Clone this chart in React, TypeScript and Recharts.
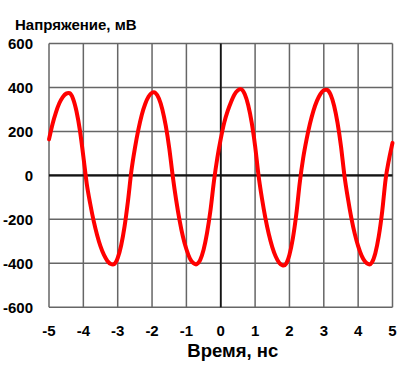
import React from 'react';
import { LineChart, Line, XAxis, YAxis, CartesianGrid, ReferenceLine } from 'recharts';

const times: number[] = [
  -5.0, -4.9, -4.8, -4.7, -4.6, -4.5, -4.43, -4.4, -4.3, -4.2, -4.1, -4.0,
  -3.9, -3.8, -3.7, -3.6, -3.5, -3.4, -3.3, -3.2, -3.14, -3.1, -3.0,
  -2.9, -2.8, -2.7, -2.6, -2.5, -2.4, -2.3, -2.2, -2.1, -2.0, -1.95, -1.9, -1.8,
  -1.7, -1.6, -1.5, -1.4, -1.3, -1.2, -1.1, -1.0, -0.9, -0.8, -0.72, -0.7, -0.6,
  -0.5, -0.4, -0.3, -0.2, -0.1, 0.0, 0.1, 0.2, 0.3, 0.4, 0.5, 0.57, 0.6, 0.7,
  0.8, 0.9, 1.0, 1.1, 1.2, 1.3, 1.4, 1.5, 1.6, 1.7, 1.8, 1.83, 1.9, 2.0,
  2.1, 2.2, 2.3, 2.4, 2.5, 2.6, 2.7, 2.8, 2.9, 3.0, 3.07, 3.1, 3.2,
  3.3, 3.4, 3.5, 3.6, 3.7, 3.8, 3.9, 4.0, 4.1, 4.2, 4.3, 4.33, 4.4,
  4.5, 4.6, 4.7, 4.8, 4.9, 5.0,
];

const voltage: number[] = [
  164, 232, 286, 328, 356, 372, 375, 374, 349, 292, 205, 86,
  -39, -129, -207, -271, -323, -362, -389, -403, -405, -403, -376,
  -319, -232, -115, 22, 123, 207, 275, 325, 359, 376, 378, 375, 350,
  300, 225, 125, 0, -110, -203, -279, -336, -377, -399, -405, -404, -385,
  -338, -263, -160, -29, 79, 166, 239, 292, 334, 368, 387, 393, 392, 369,
  319, 241, 134, 0, -105, -194, -268, -326, -369, -397, -409, -410, -402, -361,
  -286, -176, -33, 79, 165, 237, 295, 339, 370, 387, 390, 389, 367,
  317, 239, 133, 0, -103, -192, -265, -322, -365, -392, -404, -405, -396,
  -354, -277, -164, -17, 74, 148,
];

const xTicks: number[] = [-5, -4, -3, -2, -1, 0, 1, 2, 3, 4, 5];
const yTicks: number[] = [-600, -400, -200, 0, 200, 400, 600];

const yTitle = 'Напряжение, мВ';
const xTitle = 'Время, нс';

const data = times.map((t, i) => ({ t, v: voltage[i] }));

const FONT = '"Liberation Sans", Arial, sans-serif';
const tickStyle = { fontFamily: FONT, fontWeight: 700, fontSize: 15, fill: '#000' };

export default function App() {
  return (
    <div style={{ position: 'absolute', left: 0, top: 0, width: 408, height: 365 }}>
      <LineChart
        width={408}
        height={365}
        data={data}
        margin={{ top: 43.5, right: 15.5, bottom: 0, left: 0 }}
      >
        <CartesianGrid stroke="#666666" strokeWidth={1.5} horizontalValues={yTicks} verticalValues={xTicks} />
        <XAxis
          type="number"
          dataKey="t"
          domain={[-5, 5]}
          ticks={xTicks}
          interval={0}
          axisLine={false}
          tickLine={false}
          tickMargin={12}
          height={57.7}
          tick={tickStyle}
          label={{
            content: (props: any) => {
              const vb = props.viewBox;
              return (
                <text
                  x={vb.x + vb.width / 2 + 12}
                  y={vb.y + 49.4}
                  textAnchor="middle"
                  fontFamily={FONT}
                  fontWeight={700}
                  fontSize={18.5}
                  fill="#000"
                >
                  {xTitle}
                </text>
              );
            },
          }}
        />
        <YAxis
          type="number"
          domain={[-600, 600]}
          ticks={yTicks}
          interval={0}
          axisLine={false}
          tickLine={false}
          tickMargin={10}
          width={49}
          tick={tickStyle}
          label={{
            content: (props: any) => {
              const vb = props.viewBox;
              return (
                <text
                  x={vb.x + 15}
                  y={vb.y - 13.5}
                  textAnchor="start"
                  fontFamily={FONT}
                  fontWeight={700}
                  fontSize={15}
                  fill="#000"
                >
                  {yTitle}
                </text>
              );
            },
          }}
        />
        <ReferenceLine y={0} stroke="#141414" strokeWidth={2.2} />
        <ReferenceLine x={0} stroke="#141414" strokeWidth={1.8} />
        <Line
          type="monotone"
          dataKey="v"
          stroke="#ff0000"
          strokeWidth={4}
          dot={false}
          strokeLinejoin="round"
          strokeLinecap="round"
          isAnimationActive={false}
        />
      </LineChart>
    </div>
  );
}
